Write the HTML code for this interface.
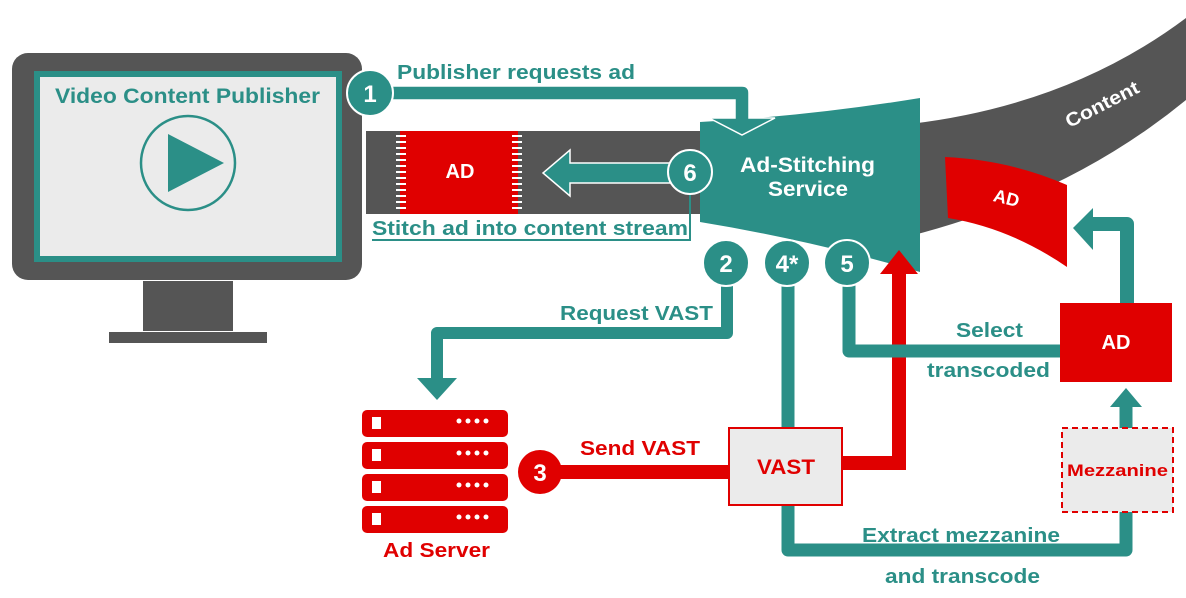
<!DOCTYPE html>
<html><head><meta charset="utf-8"><style>
html,body{margin:0;padding:0;background:#fff;}
svg{display:block;}
text{font-family:"Liberation Sans",Arial,sans-serif;font-weight:bold;}
</style></head><body>
<svg width="1186" height="598" viewBox="0 0 1186 598" xmlns="http://www.w3.org/2000/svg">
<!-- Content band -->
<path d="M910,124 Q1070,105 1186,18 L1186,100 Q1070,195 910,236 Z" fill="#555"/>
<text x="1105" y="110" fill="#fff" font-size="19" transform="rotate(-27 1105 110)" text-anchor="middle" textLength="80" lengthAdjust="spacingAndGlyphs">Content</text>
<!-- AD wedge -->
<path d="M945,157 Q1010,160 1067,185 L1067,267 Q1010,228 948,218 Z" fill="#e00000"/>
<text x="1005" y="204" fill="#fff" font-size="18" transform="rotate(14 1005 204)" text-anchor="middle">AD</text>
<!-- monitor -->
<rect x="12" y="53" width="350" height="227" rx="16" fill="#555"/>
<rect x="34" y="71" width="308" height="191" fill="#2b8f87"/>
<rect x="40" y="77" width="296" height="179" fill="#ebebeb"/>
<rect x="143" y="281" width="90" height="50" fill="#555"/>
<rect x="109" y="332" width="158" height="11" fill="#555"/>
<text x="55" y="103" fill="#2b8f87" font-size="21" textLength="265" lengthAdjust="spacingAndGlyphs">Video Content Publisher</text>
<circle cx="188" cy="163" r="47" fill="none" stroke="#2b8f87" stroke-width="2.5"/>
<path d="M168,134 L224,163 L168,192 Z" fill="#2b8f87"/>
<!-- gray band -->
<rect x="366" y="131" width="340" height="83" fill="#555"/>
<rect x="400" y="131" width="118" height="83" fill="#e00000"/>
<g stroke="#fff" stroke-width="2">
<path d="M396,136 h10 M396,142 h10 M396,148 h10 M396,154 h10 M396,160 h10 M396,166 h10 M396,172 h10 M396,178 h10 M396,184 h10 M396,190 h10 M396,196 h10 M396,202 h10 M396,208 h10"/>
<path d="M512,136 h10 M512,142 h10 M512,148 h10 M512,154 h10 M512,160 h10 M512,166 h10 M512,172 h10 M512,178 h10 M512,184 h10 M512,190 h10 M512,196 h10 M512,202 h10 M512,208 h10"/>
</g>
<text x="460" y="178" fill="#fff" font-size="20" text-anchor="middle">AD</text>
<!-- arrow 6 -->
<path d="M670,163 L570,163 L570,150 L543,173 L570,196 L570,183 L670,183 Z" fill="#2b8f87" stroke="#fff" stroke-width="1.5"/>
<!-- service -->
<path d="M700,122 Q810,116 920,98 L920,272 Q810,240 700,222 Z" fill="#2b8f87"/>
<text x="740" y="172" fill="#fff" font-size="21" textLength="135" lengthAdjust="spacingAndGlyphs">Ad-Stitching</text>
<text x="768" y="196" fill="#fff" font-size="21" textLength="80" lengthAdjust="spacingAndGlyphs">Service</text>
<!-- stitch label -->
<text x="372" y="235" fill="#2b8f87" font-size="20" textLength="316" lengthAdjust="spacingAndGlyphs">Stitch ad into content stream</text>
<path d="M372,240 L690,240 L690,194" fill="none" stroke="#2b8f87" stroke-width="2"/>
<circle cx="690" cy="172" r="22" fill="#2b8f87" stroke="#fff" stroke-width="2"/>
<text x="690" y="181" fill="#fff" font-size="24" text-anchor="middle">6</text>
<!-- arrow 1 -->
<path d="M390,86 L742,86 Q749,86 749,93 L749,118 L775,118 L742,135 L709,118 L735,118 L735,100 L390,100 Z" fill="#2b8f87" stroke="#fff" stroke-width="1.5"/>
<circle cx="370" cy="93" r="23" fill="#2b8f87" stroke="#fff" stroke-width="2"/>
<text x="370" y="102" fill="#fff" font-size="24" text-anchor="middle">1</text>
<text x="397" y="79" fill="#2b8f87" font-size="20" textLength="238" lengthAdjust="spacingAndGlyphs">Publisher requests ad</text>
<!-- red line from VAST to service -->
<path d="M842,463 L899,463 L899,268" fill="none" stroke="#e00000" stroke-width="14"/>
<path d="M880,274 L899,250 L918,274 Z" fill="#e00000"/>
<!-- line 2 -->
<path d="M727,270 L727,333 L437,333 L437,382" fill="none" stroke="#2b8f87" stroke-width="12" stroke-linejoin="round"/>
<path d="M417,378 L457,378 L437,400 Z" fill="#2b8f87"/>
<text x="560" y="320" fill="#2b8f87" font-size="20" textLength="153" lengthAdjust="spacingAndGlyphs">Request VAST</text>
<!-- line 4 -->
<path d="M788,270 L788,430 M788,500 L788,550 L1126,550 L1126,510" fill="none" stroke="#2b8f87" stroke-width="13" stroke-linejoin="round"/>
<text x="862" y="542" fill="#2b8f87" font-size="20" textLength="198" lengthAdjust="spacingAndGlyphs">Extract mezzanine</text>
<text x="885" y="583" fill="#2b8f87" font-size="20" textLength="155" lengthAdjust="spacingAndGlyphs">and transcode</text>
<!-- line 5 -->
<path d="M849,270 L849,351 L1062,351" fill="none" stroke="#2b8f87" stroke-width="13" stroke-linejoin="round"/>
<text x="956" y="337" fill="#2b8f87" font-size="20" textLength="67" lengthAdjust="spacingAndGlyphs">Select</text>
<text x="927" y="377" fill="#2b8f87" font-size="20" textLength="123" lengthAdjust="spacingAndGlyphs">transcoded</text>
<!-- circles -->
<circle cx="726" cy="263" r="23" fill="#2b8f87" stroke="#fff" stroke-width="2"/>
<text x="726" y="272" fill="#fff" font-size="24" text-anchor="middle">2</text>
<circle cx="787" cy="263" r="23" fill="#2b8f87" stroke="#fff" stroke-width="2"/>
<text x="787" y="272" fill="#fff" font-size="24" text-anchor="middle">4*</text>
<circle cx="847" cy="263" r="23" fill="#2b8f87" stroke="#fff" stroke-width="2"/>
<text x="847" y="272" fill="#fff" font-size="24" text-anchor="middle">5</text>
<!-- AD box -->
<rect x="1060" y="303" width="112" height="79" fill="#e00000"/>
<text x="1116" y="349" fill="#fff" font-size="20" text-anchor="middle">AD</text>
<path d="M1127,303 L1127,224 L1090,224" fill="none" stroke="#2b8f87" stroke-width="14" stroke-linejoin="round"/>
<path d="M1093,208 L1073,228 L1093,250 Z" fill="#2b8f87"/>
<!-- mezzanine -->
<path d="M1126,430 L1126,405" stroke="#2b8f87" stroke-width="13"/>
<path d="M1110,407 L1126,388 L1142,407 Z" fill="#2b8f87"/>
<rect x="1062" y="428" width="111" height="84" fill="#ebebeb" stroke="#e00000" stroke-width="2" stroke-dasharray="6,4"/>
<text x="1067" y="476" fill="#e00000" font-size="17" textLength="101" lengthAdjust="spacingAndGlyphs">Mezzanine</text>
<!-- send VAST -->
<path d="M555,472 L730,472" stroke="#e00000" stroke-width="14"/>
<circle cx="540" cy="472" r="22" fill="#e00000"/>
<text x="540" y="481" fill="#fff" font-size="24" text-anchor="middle">3</text>
<text x="580" y="455" fill="#e00000" font-size="20" textLength="120" lengthAdjust="spacingAndGlyphs">Send VAST</text>
<rect x="729" y="428" width="113" height="77" fill="#ebebeb" stroke="#e00000" stroke-width="2"/>
<text x="757" y="474" fill="#e00000" font-size="21" textLength="58" lengthAdjust="spacingAndGlyphs">VAST</text>
<!-- ad server -->
<g fill="#e00000">
<rect x="362" y="410" width="146" height="27" rx="5"/>
<rect x="362" y="442" width="146" height="27" rx="5"/>
<rect x="362" y="474" width="146" height="27" rx="5"/>
<rect x="362" y="506" width="146" height="27" rx="5"/>
</g>
<g fill="#fff">
<rect x="372" y="417" width="9" height="12"/><rect x="372" y="449" width="9" height="12"/><rect x="372" y="481" width="9" height="12"/><rect x="372" y="513" width="9" height="12"/>
<circle cx="459" cy="421" r="2.5"/><circle cx="468" cy="421" r="2.5"/><circle cx="477" cy="421" r="2.5"/><circle cx="486" cy="421" r="2.5"/>
<circle cx="459" cy="453" r="2.5"/><circle cx="468" cy="453" r="2.5"/><circle cx="477" cy="453" r="2.5"/><circle cx="486" cy="453" r="2.5"/>
<circle cx="459" cy="485" r="2.5"/><circle cx="468" cy="485" r="2.5"/><circle cx="477" cy="485" r="2.5"/><circle cx="486" cy="485" r="2.5"/>
<circle cx="459" cy="517" r="2.5"/><circle cx="468" cy="517" r="2.5"/><circle cx="477" cy="517" r="2.5"/><circle cx="486" cy="517" r="2.5"/>
</g>
<text x="383" y="557" fill="#e00000" font-size="20" textLength="107" lengthAdjust="spacingAndGlyphs">Ad Server</text>
</svg>
</body></html>
